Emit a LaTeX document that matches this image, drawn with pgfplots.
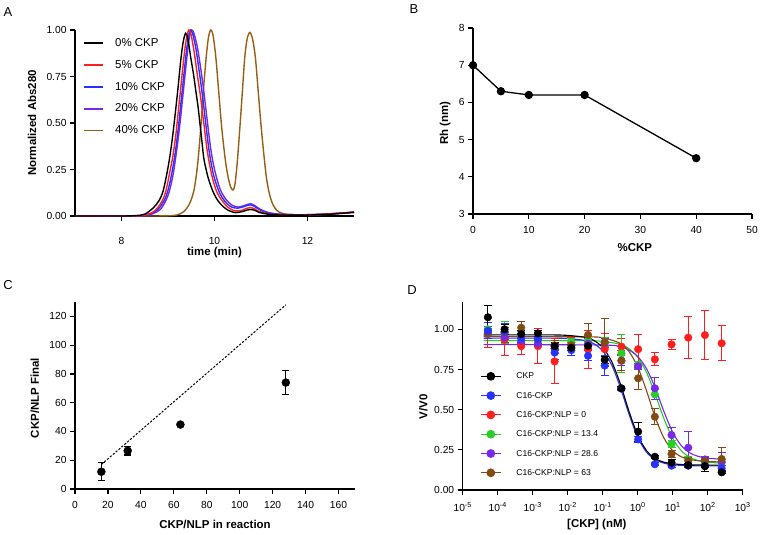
\documentclass[border=0pt]{standalone}
\usepackage{pgfplots}
\pgfplotsset{compat=1.18}
\usepackage{fontspec}
\setmainfont{Liberation Sans}

\definecolor{gpred}{RGB}{255,30,30}
\definecolor{gpblue}{RGB}{40,50,255}
\definecolor{gppurple}{RGB}{120,40,230}
\definecolor{gpbrown}{RGB}{150,95,20}
\definecolor{gpgreen}{RGB}{40,205,40}
\definecolor{dbrown}{RGB}{130,75,20}

\pgfplotsset{
  gp/.style={
    scale only axis,
    anchor=south west,
    axis lines=left,
    axis line style={-, line width=1.2bp},
    tick style={black, line width=1.2bp},
    tick align=outside,
    major tick length=5bp,
    ticklabel style={font=\fontsize{10.3}{12}\selectfont},
    xticklabel style={yshift=-4bp},
    label style={font=\bfseries\fontsize{11.5}{13}\selectfont},
    clip=false,
  },
}

\begin{document}
\begin{tikzpicture}
\useasboundingbox (0bp,0bp) rectangle (760bp,535bp);

% ---------------- A ----------------
\begin{axis}[gp, at={(75bp,319bp)}, width=279bp, height=186bp,
  xmin=7, xmax=13, ymin=0, ymax=1,
  xtick={8,10,12}, xticklabels={8,10,12},
  xticklabel style={yshift=-9bp},
  ytick={0,0.25,0.5,0.75,1}, yticklabels={0.00,0.25,0.50,0.75,1.00},
  xlabel={time (min)}, ylabel={Normalized Abs280},
  x label style={at={(axis description cs:0.5,-0.199)}, anchor=center},
  y label style={at={(axis description cs:-0.154,0.5)}, anchor=center},
  reverse legend,
  legend cell align=left,
  legend image code/.code={\draw[#1, line width=1.9bp] (0bp,0bp) -- (19bp,0bp);},
  legend style={at={(axis description cs:0.029,0.958)}, anchor=north west,
    draw=none, fill=none, inner sep=0pt,
    font=\fontsize{11.5}{13}\selectfont,
    nodes={inner sep=0pt, text height=8.5bp, text depth=2bp},
    row sep=11.3bp,
    /tikz/every odd column/.append style={column sep=11bp}},
]
\addplot[gpbrown, line width=1.4bp, smooth] coordinates {
(7,0) (8.5,0) (9.0,0.001) (9.2,0.006) (9.32,0.02) (9.4,0.04) (9.46,0.065) (9.51,0.095)
(9.56,0.14) (9.61,0.22) (9.65,0.31) (9.71,0.49) (9.76,0.67) (9.82,0.85) (9.87,0.96)
(9.92,1.0) (9.97,0.97) (10.03,0.85) (10.09,0.67) (10.15,0.49) (10.2,0.37) (10.25,0.27)
(10.3,0.2) (10.35,0.155) (10.40,0.14) (10.44,0.17) (10.49,0.29) (10.55,0.49) (10.6,0.67)
(10.65,0.85) (10.7,0.95) (10.76,0.987) (10.82,0.95) (10.88,0.85) (10.94,0.67) (11.0,0.49)
(11.07,0.31) (11.12,0.2) (11.18,0.12) (11.25,0.065) (11.34,0.03) (11.45,0.015) (11.6,0.008)
(12,0.006) (12.5,0.01) (13,0.02)};
\addlegendentry{40\% CKP}
\addplot[gppurple, line width=1.4bp, smooth] coordinates {
(7,0) (8.35,0) (8.65,0.01) (8.85,0.04) (9.0,0.11) (9.1,0.21) (9.18,0.34) (9.25,0.48)
(9.33,0.67) (9.41,0.86) (9.46,0.96) (9.51,1.0) (9.56,0.98) (9.63,0.91) (9.7,0.8)
(9.77,0.67) (9.85,0.5) (9.92,0.36) (10.0,0.25) (10.12,0.145) (10.25,0.088) (10.38,0.058)
(10.52,0.048) (10.66,0.058) (10.78,0.066) (10.9,0.05) (11.0,0.034) (11.2,0.016)
(11.5,0.008) (12,0.007) (12.5,0.012) (13,0.02)};
\addlegendentry{20\% CKP}
\addplot[gpblue, line width=1.4bp, smooth] coordinates {
(7,0) (8.3,0) (8.6,0.01) (8.8,0.04) (8.95,0.1) (9.05,0.19) (9.15,0.33) (9.22,0.47)
(9.3,0.66) (9.38,0.85) (9.43,0.95) (9.48,1.0) (9.53,0.98) (9.6,0.9) (9.67,0.78)
(9.74,0.65) (9.82,0.48) (9.89,0.34) (9.98,0.22) (10.1,0.13) (10.22,0.08) (10.35,0.05)
(10.5,0.042) (10.65,0.052) (10.78,0.06) (10.9,0.045) (11.0,0.03) (11.2,0.015)
(11.5,0.008) (12,0.007) (12.5,0.012) (13,0.02)};
\addlegendentry{10\% CKP}
\addplot[gpred, line width=1.4bp, smooth] coordinates {
(7,0) (8.2,0) (8.5,0.005) (8.7,0.025) (8.85,0.07) (8.95,0.13) (9.05,0.25) (9.11,0.33)
(9.17,0.44) (9.22,0.56) (9.27,0.68) (9.35,0.87) (9.40,0.96) (9.45,1.0) (9.50,0.97)
(9.57,0.87) (9.63,0.76) (9.69,0.66) (9.77,0.5) (9.85,0.34) (9.95,0.21) (10.05,0.13)
(10.17,0.08) (10.3,0.045) (10.45,0.027) (10.6,0.032) (10.7,0.042) (10.78,0.045)
(10.87,0.038) (10.95,0.025) (11.2,0.01) (11.5,0.006) (12,0.006) (12.5,0.012) (13,0.022)};
\addlegendentry{5\% CKP}
\addplot[black, line width=1.4bp, smooth] coordinates {
(7,0) (8,0) (8.3,0.002) (8.5,0.01) (8.68,0.043) (8.8,0.08) (8.89,0.13) (8.97,0.22)
(9.04,0.32) (9.1,0.43) (9.16,0.56) (9.22,0.7) (9.28,0.85) (9.33,0.94) (9.38,0.982)
(9.43,0.95) (9.49,0.85) (9.55,0.76) (9.6,0.67) (9.65,0.58) (9.69,0.49) (9.73,0.4)
(9.77,0.31) (9.82,0.25) (9.87,0.2) (9.97,0.13) (10.08,0.08) (10.19,0.05) (10.3,0.03)
(10.45,0.018) (10.6,0.024) (10.7,0.032) (10.78,0.035) (10.87,0.03) (10.95,0.02)
(11.2,0.008) (11.5,0.005) (12,0.005) (12.5,0.01) (13,0.02)};
\addlegendentry{0\% CKP}
\end{axis}

% ---------------- B ----------------
\begin{axis}[gp, at={(473bp,321bp)}, width=279bp, height=186bp,
  xmin=0, xmax=50, ymin=3, ymax=8,
  xtick={0,10,20,30,40,50}, xticklabels={0,10,20,30,40,50},
  ytick={3,4,5,6,7,8}, yticklabels={3,4,5,6,7,8},
  xlabel={\%CKP}, ylabel={Rh (nm)},
  x label style={at={(axis description cs:0.58,-0.183)}, anchor=center},
  y label style={at={(axis description cs:-0.10,0.49)}, anchor=center},
]
\addplot[black, line width=1.3bp, mark=*, mark size=3.5bp] coordinates {
(0,7) (5,6.3) (10,6.2) (20,6.2) (40,4.5)};
\end{axis}

% ---------------- C ----------------
\begin{axis}[gp, at={(75bp,46bp)}, width=280bp, height=187bp,
  xmin=0, xmax=170, ymin=0, ymax=130,
  xtick={0,20,...,160}, xticklabels={0,20,40,60,80,100,120,140,160},
  ytick={0,20,...,120}, yticklabels={0,20,40,60,80,100,120},
  xlabel={CKP/NLP in reaction}, ylabel={CKP/NLP Final},
  x label style={at={(axis description cs:0.5,-0.187)}, anchor=center},
  y label style={at={(axis description cs:-0.143,0.487)}, anchor=center},
]
\addplot[black, line width=1bp, dash pattern=on 2.2bp off 1.6bp] coordinates {(16,17) (128,128)};
\addplot[black, only marks, mark=*, mark size=4bp,
  error bars/.cd, y dir=both, y explicit,
  error bar style={line width=1.2bp},
  error mark options={rotate=90, mark size=3.5bp, line width=1.2bp}] coordinates {
(16,12) +- (0,6.3)
(32,26.6) +- (0,3)
(64,44.8) +- (0,1)
(128,74) +- (0,8.4)};
\end{axis}

% ---------------- D ----------------
\begin{axis}[gp, at={(462.7bp,45bp)}, width=280bp, height=187.7bp,
  xmode=log, xmin=1e-5, xmax=1e3, ymin=0, ymax=1.168,
  xtick={1e-5,1e-4,1e-3,1e-2,1e-1,1,1e1,1e2,1e3},
  xticklabels={10\textsuperscript{-5},10\textsuperscript{-4},10\textsuperscript{-3},
    10\textsuperscript{-2},10\textsuperscript{-1},10\textsuperscript{0},
    10\textsuperscript{1},10\textsuperscript{2},10\textsuperscript{3}},
  xminorticks=false,
  ytick={0,0.25,0.5,0.75,1}, yticklabels={0.00,0.25,0.50,0.75,1.00},
  xlabel={[CKP] (nM)}, ylabel={V/V0},
  x label style={at={(axis description cs:0.479,-0.186)}, anchor=center},
  y label style={at={(axis description cs:-0.141,0.444)}, anchor=center},
  legend cell align=left,
  legend image code/.code={\draw[mark repeat=2,mark phase=2,#1] plot coordinates {(0bp,0bp) (10bp,0bp) (20bp,0bp)};},
  legend style={at={(axis description cs:0.062,0.628)}, anchor=north west,
    draw=none, fill=none, inner sep=0pt,
    font=\fontsize{8.6}{10}\selectfont,
    nodes={inner sep=0pt, text height=6.5bp, text depth=1.5bp},
    row sep=11.3bp,
    /tikz/every odd column/.append style={column sep=15bp}},
]
\addlegendimage{black, line width=1.1bp, mark=*, mark size=3.8bp}
\addlegendentry{CKP}
\addlegendimage{gpblue, line width=1.1bp, mark=*, mark size=3.8bp}
\addlegendentry{C16-CKP}
\addlegendimage{gpred, line width=1.1bp, mark=*, mark size=3.8bp}
\addlegendentry{C16-CKP:NLP = 0}
\addlegendimage{gpgreen, line width=1.1bp, mark=*, mark size=3.8bp}
\addlegendentry{C16-CKP:NLP = 13.4}
\addlegendimage{gppurple, line width=1.1bp, mark=*, mark size=3.8bp}
\addlegendentry{C16-CKP:NLP = 28.6}
\addlegendimage{dbrown, line width=1.1bp, mark=*, mark size=3.8bp}
\addlegendentry{C16-CKP:NLP = 63}

% fitted curves
\addplot[forget plot, gpgreen, line width=1.1bp, smooth] coordinates {
(3.98e-5,0.93) (0.0316,0.929) (0.1,0.925) (0.316,0.907) (0.562,0.880) (1,0.827)
(1.778,0.733) (3.162,0.596) (5.623,0.444) (10,0.321) (17.78,0.244) (31.62,0.202)
(56.23,0.182) (100,0.173) (281.8,0.166)};
\addplot[forget plot, gppurple, line width=1.1bp, smooth] coordinates {
(3.98e-5,0.905) (0.1,0.902) (0.316,0.890) (0.562,0.871) (1,0.831) (1.778,0.756)
(3.162,0.635) (5.623,0.488) (10,0.359) (17.78,0.275) (31.62,0.230) (56.23,0.208)
(100,0.198) (281.8,0.191)};
\addplot[forget plot, dbrown, line width=1.1bp, smooth] coordinates {
(3.98e-5,0.955) (0.0316,0.953) (0.1,0.947) (0.316,0.913) (0.562,0.862) (1,0.766)
(1.778,0.619) (3.162,0.453) (5.623,0.323) (10,0.245) (17.78,0.206) (31.62,0.189)
(100,0.177) (281.8,0.175)};
\addplot[forget plot, gpblue, line width=1.1bp, smooth] coordinates {
(3.98e-5,0.945) (3.16e-3,0.945) (0.01,0.942) (0.0316,0.930) (0.0562,0.910) (0.1,0.866)
(0.178,0.781) (0.316,0.641) (0.562,0.473) (1,0.328) (1.778,0.236) (3.162,0.189)
(5.623,0.167) (10,0.157) (31.62,0.151) (281.8,0.150)};
\addplot[forget plot, black, line width=1.1bp, smooth] coordinates {
(3.98e-5,0.965) (3.16e-3,0.965) (0.01,0.962) (0.0316,0.950) (0.0562,0.930) (0.1,0.887)
(0.178,0.802) (0.316,0.663) (0.562,0.491) (1,0.341) (1.778,0.246) (3.162,0.196)
(5.623,0.173) (10,0.163) (31.62,0.156) (281.8,0.155)};

% data with error bars
\pgfplotsset{dpts/.style={forget plot, only marks, mark=*, mark size=3.8bp, #1,
  error bars/.cd, y dir=both, y explicit,
  error bar style={line width=1bp},
  error mark options={rotate=90, mark size=4bp, line width=1bp}}}
\addplot[dpts=gpred] coordinates {
(5.23e-5,0.975) +- (0,0.09) (1.57e-4,0.935) +- (0,0.10) (4.70e-4,0.895) +- (0,0.05)
(1.41e-3,0.895) +- (0,0.11) (4.23e-3,0.80) +- (0,0.14) (0.0127,0.917) +- (0,0.03)
(0.0381,0.875) +- (0,0.12) (0.114,0.876) +- (0,0.10) (0.343,0.892) +- (0,0.05)
(1.03,0.876) +- (0,0.09) (3.09,0.813) +- (0,0.04) (9.26,0.906) +- (0,0.03)
(27.8,0.948) +- (0,0.13) (83.3,0.964) +- (0,0.15) (250,0.913) +- (0,0.11)};
\addplot[dpts=gpgreen] coordinates {
(5.23e-5,1.0) +- (0,0.04) (1.57e-4,0.98) +- (0,0.07) (4.70e-4,0.955) +- (0,0.03)
(1.41e-3,0.93) +- (0,0.03) (4.23e-3,0.88) +- (0,0.03) (0.0127,0.92) +- (0,0.02)
(0.0381,0.93) +- (0,0.03) (0.114,0.92) +- (0,0.03) (0.343,0.85) +- (0,0.12)
(1.03,0.778) +- (0,0.02) (3.09,0.595) +- (0,0.03) (9.26,0.286) +- (0,0.02)
(27.8,0.187) +- (0,0.02) (83.3,0.17) +- (0,0.01) (250,0.17) +- (0,0.02)};
\addplot[dpts=gppurple] coordinates {
(5.23e-5,0.985) +- (0,0.03) (1.57e-4,0.95) +- (0,0.03) (4.70e-4,0.93) +- (0,0.02)
(1.41e-3,0.91) +- (0,0.02) (4.23e-3,0.88) +- (0,0.03) (0.0127,0.9) +- (0,0.02)
(0.0381,0.91) +- (0,0.03) (0.114,0.915) +- (0,0.03) (0.343,0.805) +- (0,0.03)
(1.03,0.77) +- (0,0.02) (3.09,0.633) +- (0,0.07) (9.26,0.342) +- (0,0.05)
(27.8,0.263) +- (0,0.10) (83.3,0.19) +- (0,0.02) (250,0.176) +- (0,0.06)};
\addplot[dpts=dbrown] coordinates {
(5.23e-5,0.97) +- (0,0.03) (1.57e-4,0.98) +- (0,0.03) (4.70e-4,1.01) +- (0,0.04)
(1.41e-3,0.94) +- (0,0.03) (4.23e-3,0.9) +- (0,0.03) (0.0127,0.9) +- (0,0.02)
(0.0381,0.965) +- (0,0.07) (0.114,0.92) +- (0,0.15) (0.343,0.805) +- (0,0.06)
(1.03,0.695) +- (0,0.07) (3.09,0.456) +- (0,0.05) (9.26,0.224) +- (0,0.02)
(27.8,0.182) +- (0,0.02) (83.3,0.18) +- (0,0.02) (250,0.193) +- (0,0.07)};
\addplot[dpts=gpblue] coordinates {
(5.23e-5,0.99) +- (0,0.05) (1.57e-4,0.985) +- (0,0.05) (4.70e-4,0.945) +- (0,0.03)
(1.41e-3,0.94) +- (0,0.04) (4.23e-3,0.855) +- (0,0.04) (0.0127,0.87) +- (0,0.03)
(0.0381,0.835) +- (0,0.03) (0.114,0.774) +- (0,0.06) (0.343,0.63) +- (0,0.01)
(1.03,0.315) +- (0,0.02) (3.09,0.16) +- (0,0.01) (9.26,0.151) +- (0,0.01)
(27.8,0.151) +- (0,0.01) (83.3,0.15) +- (0,0.01) (250,0.135) +- (0,0.02)};
\addplot[dpts=black] coordinates {
(5.23e-5,1.075) +- (0,0.07) (1.57e-4,1.0) +- (0,0.03) (4.70e-4,0.97) +- (0,0.02)
(1.41e-3,0.975) +- (0,0.02) (4.23e-3,0.895) +- (0,0.02) (0.0127,0.885) +- (0,0.02)
(0.0381,0.896) +- (0,0.03) (0.114,0.81) +- (0,0.02) (0.343,0.633) +- (0,0.01)
(1.03,0.363) +- (0,0.06) (3.09,0.207) +- (0,0.01) (9.26,0.17) +- (0,0.02)
(27.8,0.155) +- (0,0.01) (83.3,0.148) +- (0,0.03) (250,0.11) +- (0,0.01)};
\end{axis}

% panel letters
\node[font=\fontsize{13}{15}\selectfont] at (8bp,522.5bp) {A};
\node[font=\fontsize{13}{15}\selectfont] at (414bp,526bp) {B};
\node[font=\fontsize{13}{15}\selectfont] at (8bp,250bp) {C};
\node[font=\fontsize{13}{15}\selectfont] at (412bp,245bp) {D};
\end{tikzpicture}
\end{document}
